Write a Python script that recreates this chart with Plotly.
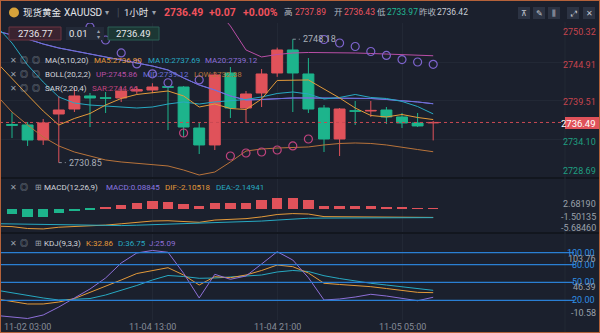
import plotly.graph_objects as go

# ---------------- data ----------------
times = ["11-02 02:00", "11-02 03:00", "11-02 04:00", "11-04 07:00", "11-04 08:00", "11-04 09:00",
         "11-04 10:00", "11-04 11:00", "11-04 12:00", "11-04 13:00", "11-04 14:00", "11-04 15:00",
         "11-04 16:00", "11-04 17:00", "11-04 18:00", "11-04 19:00", "11-04 20:00", "11-04 21:00",
         "11-04 22:00", "11-04 23:00", "11-05 00:00", "11-05 01:00", "11-05 02:00", "11-05 03:00",
         "11-05 04:00", "11-05 05:00", "11-05 06:00", "11-05 07:00"]
opens = [2736.20, 2736.14, 2734.03, 2737.68, 2738.38, 2740.21, 2739.95, 2739.93, 2740.90, 2741.05,
         2741.50, 2741.47, 2735.71, 2733.33, 2743.44, 2738.52, 2740.63, 2743.44, 2746.67, 2743.30,
         2738.52, 2734.17, 2738.12, 2738.10, 2738.24, 2737.26, 2736.42, 2736.43]
highs = [2737.90, 2736.56, 2736.98, 2740.21, 2741.33, 2740.63, 2740.77, 2741.47, 2741.60, 2742.00,
         2741.60, 2741.60, 2736.50, 2743.60, 2744.28, 2740.91, 2744.00, 2747.00, 2748.18, 2745.54,
         2738.94, 2738.52, 2739.51, 2739.51, 2738.66, 2737.82, 2737.82, 2736.70]
lows = [2734.30, 2733.19, 2733.33, 2730.85, 2737.96, 2735.85, 2737.82, 2739.36, 2740.50, 2740.60,
        2735.43, 2734.45, 2732.06, 2732.62, 2737.12, 2736.42, 2738.66, 2742.90, 2737.96, 2737.82,
        2732.34, 2731.78, 2736.14, 2737.26, 2736.28, 2735.71, 2735.85, 2733.97]
closes = [2736.10, 2734.03, 2736.42, 2738.24, 2740.21, 2739.93, 2739.90, 2740.91, 2741.10, 2741.47,
          2741.45, 2735.85, 2733.33, 2743.16, 2738.52, 2740.49, 2743.30, 2746.67, 2743.44, 2738.38,
          2734.17, 2738.38, 2738.08, 2738.18, 2737.26, 2736.42, 2736.00, 2736.49]

# indicator lines start one bar before the first visible candle
line_idx = list(range(-1, 28))
ma5 = [2744.98, 2742.60, 2740.35, 2738.10, 2736.13, 2737.05, 2737.75, 2738.94, 2739.86, 2740.42,
       2740.63, 2740.91, 2740.21, 2738.66, 2739.08, 2738.45, 2738.31, 2739.79, 2742.39, 2742.46,
       2742.46, 2741.19, 2739.93, 2738.52, 2737.47, 2737.26, 2737.61, 2737.19, 2736.90]
ma10 = [2750.04, 2747.65, 2744.56, 2742.17, 2740.07, 2739.22, 2738.94, 2738.80, 2738.66, 2738.52,
        2738.66, 2739.08, 2739.37, 2739.08, 2739.37, 2739.51, 2739.72, 2740.07, 2740.56, 2740.77,
        2740.49, 2739.79, 2740.00, 2740.42, 2740.00, 2739.86, 2739.44, 2738.73, 2737.69]
ma20 = [2749.34, 2748.78, 2748.21, 2747.51, 2746.95, 2746.53, 2746.11, 2745.69, 2745.26, 2744.84,
        2744.42, 2743.86, 2742.74, 2741.75, 2741.05, 2740.21, 2739.65, 2739.72, 2739.86, 2739.93,
        2739.93, 2739.93, 2739.93, 2739.93, 2739.86, 2739.72, 2739.58, 2739.37, 2739.12]
boll_up = [2758.3, 2759.6, 2760.3, 2760.6, 2760.7, 2760.7, 2760.4, 2760.2, 2759.6, 2759.0,
           2758.3, 2757.5, 2755.7, 2754.4, 2752.6, 2750.04, 2746.67, 2745.69, 2746.04, 2746.25,
           2746.32, 2746.32, 2746.32, 2746.25, 2746.18, 2746.11, 2746.04, 2745.97, 2745.86]
boll_low = [2740.35, 2737.96, 2736.13, 2734.45, 2733.19, 2732.34, 2731.78, 2731.22, 2730.94, 2730.73,
            2730.59, 2730.38, 2729.81, 2729.11, 2729.53, 2730.94, 2732.48, 2732.76, 2732.90, 2732.97,
            2733.05, 2733.33, 2733.54, 2733.61, 2733.54, 2733.33, 2733.05, 2732.69, 2732.38]
sar_above = [None, None, None, None, None, 2749.90, 2748.07, 2746.25, 2744.71, 2743.32,
             2742.07, None, 2742.46, None, None, None, None, None, None, None,
             2748.14, 2747.65, 2747.16, 2746.46, 2745.90, 2745.33, 2744.98, 2744.66]
sar_below = [None, None, None, None, None, None, None, None, None, None,
             None, 2735.01, None, None, 2731.78, 2732.20, 2732.34, 2732.62, 2733.19, 2734.17,
             None, None, None, None, None, None, None, None]

macd_hist = [-1.30, -2.09, -2.09, -1.07, -0.53, -0.23, 0.33, 0.86, 1.26, 1.79, 1.63, 1.09, 0.56, 1.40,
             1.40, 1.49, 2.02, 2.68, 2.65, 2.02, 0.70, 0.56, 0.56, 0.56, 0.47, 0.23, 0.10, 0.08845]
dif = [-4.20, -4.32, -4.78, -4.88, -4.47, -4.28, -4.20, -3.95, -3.64, -3.35, -2.97, -2.90, -3.08, -3.28,
       -2.74, -2.58, -2.40, -1.97, -1.40, -1.18, -1.29, -1.91, -1.95, -1.93, -1.91, -1.92, -2.04, -2.10,
       -2.10518]
dea = [-3.62, -3.67, -3.74, -3.84, -3.93, -4.02, -4.09, -4.12, -4.07, -3.98, -3.86, -3.72, -3.63, -3.56,
       -3.44, -3.28, -3.14, -2.98, -2.74, -2.51, -2.30, -2.26, -2.23, -2.21, -2.19, -2.16, -2.16, -2.15,
       -2.14941]
kdj_k = [22.3, 18.0, 13.8, 13.8, 17.1, 23.0, 33.1, 43.2, 54.1, 65.0, 70.1, 74.8, 62.5, 45.7, 59.7,
         58.0, 62.5, 70.1, 79.3, 76.5, 65.9, 48.6, 46.6, 44.9, 42.9, 39.8, 36.5, 33.4, 32.86]
kdj_d = [37.0, 32.3, 28.1, 23.9, 20.5, 21.3, 23.0, 28.9, 36.5, 44.9, 54.1, 61.7, 60.0, 57.0, 57.5,
         59.2, 60.0, 62.5, 67.6, 70.1, 68.4, 61.3, 56.6, 52.4, 48.6, 45.7, 42.4, 39.0, 36.75]
kdj_j = [-5.5, -8.1, -10.58, -4.7, 8.7, 23.9, 39.0, 57.5, 82.7, 99.5, 103.76, 100.7, 65.4, 23.9, 63.7,
         55.3, 60.8, 81.0, 101.7, 87.7, 58.0, 20.5, 22.2, 25.5, 30.1, 27.2, 23.0, 19.3, 25.09]

price_ticks = [2750.32, 2744.91, 2739.51, 2734.10, 2728.69]
macd_ticks = ["2.68190", "-1.50135", "-5.68460"]
kdj_levels = [100, 80, 50, 20]
kdj_extremes = ["103.76", "46.39", "-10.58"]
time_ticks = ["11-02 03:00", "11-04 13:00", "11-04 21:00", "11-05 05:00"]

quote_last, quote_chg, quote_pct = 2736.49, "+0.07", "+0.00%"
quote_high, quote_open, quote_low, quote_prev = 2737.89, 2736.43, 2733.97, 2736.42
ask_price, lot, bid_price = 2736.77, "0.01", 2736.49
macd_value = 0.08845
sar_value = 2744.66

# ---------------- styling ----------------
W, H = 600, 333
BG = "#1b202d"
GRID = "#222835"
RED = "#e0525a"
GREEN = "#1db48c"
ORANGE = "#e39a3a"
TEAL = "#27a9c2"
PURPLE = "#8d6fd8"
MIDC = "#6b70dc"
MAGENTA = "#b94ea6"
BROWN = "#b8733a"
SARPINK = "#c0437e"
SARPURP = "#7d63cc"
GREY = "#9aa0ab"
FONT = "Roboto, 'Noto Sans CJK SC', sans-serif"
LEG = 8


def py(p):
    return 1 - p / H


def pxx(p):
    return p / W


PLOT_R = 565
XR = [-0.769, 35.449]
idx = list(range(len(times)))

fig = go.Figure()

fig.add_trace(go.Candlestick(
    x=idx, open=opens, high=highs, low=lows, close=closes,
    increasing=dict(line=dict(color=RED, width=1), fillcolor=RED),
    decreasing=dict(line=dict(color=GREEN, width=1), fillcolor=GREEN),
    whiskerwidth=0, hoverinfo="skip", xaxis="x", yaxis="y", showlegend=False))

for vals, col in [(boll_low, BROWN), (boll_up, MAGENTA), (ma20, PURPLE), (ma20, MIDC),
                  (ma10, TEAL), (ma5, ORANGE)]:
    fig.add_trace(go.Scatter(x=line_idx, y=vals, mode="lines", line=dict(color=col, width=1),
                             xaxis="x", yaxis="y", hoverinfo="skip", showlegend=False))

fig.add_trace(go.Scatter(x=idx, y=sar_above, mode="markers",
                         marker=dict(symbol="circle-open", size=8, color=SARPURP, line=dict(width=1.2)),
                         xaxis="x", yaxis="y", hoverinfo="skip", showlegend=False))
fig.add_trace(go.Scatter(x=idx, y=sar_below, mode="markers",
                         marker=dict(symbol="circle-open", size=8, color=SARPINK, line=dict(width=1.2)),
                         xaxis="x", yaxis="y", hoverinfo="skip", showlegend=False))

# MACD
fig.add_trace(go.Bar(x=idx, y=macd_hist, marker=dict(color=[RED if v >= 0 else GREEN for v in macd_hist],
                                                     line=dict(width=0)),
                     width=0.66, xaxis="x2", yaxis="y2", hoverinfo="skip", showlegend=False))
fig.add_trace(go.Scatter(x=line_idx, y=dif, mode="lines", line=dict(color=ORANGE, width=1),
                         xaxis="x2", yaxis="y2", hoverinfo="skip", showlegend=False))
fig.add_trace(go.Scatter(x=line_idx, y=dea, mode="lines", line=dict(color=TEAL, width=1),
                         xaxis="x2", yaxis="y2", hoverinfo="skip", showlegend=False))

# KDJ
for vals, col in [(kdj_d, TEAL), (kdj_k, ORANGE), (kdj_j, PURPLE)]:
    fig.add_trace(go.Scatter(x=line_idx, y=vals, mode="lines", line=dict(color=col, width=1),
                             xaxis="x3", yaxis="y3", hoverinfo="skip", showlegend=False))

grid_idx = [times.index(t) for t in time_ticks[1:]]
xcommon = dict(domain=[0, PLOT_R / W], range=XR, showticklabels=False, tickvals=grid_idx,
               showgrid=True, gridcolor=GRID, gridwidth=1, zeroline=False, showline=False,
               fixedrange=True)

fig.update_layout(
    width=W, height=H, margin=dict(l=0, r=0, t=0, b=0),
    paper_bgcolor=BG, plot_bgcolor=BG, font=dict(family=FONT, color=GREY, size=9),
    showlegend=False, boxgap=0.3, boxgroupgap=0, bargap=0,
    xaxis=dict(anchor="y", rangeslider=dict(visible=False), **xcommon),
    xaxis2=dict(anchor="y2", matches="x", **xcommon),
    xaxis3=dict(anchor="y3", matches="x", **xcommon),
    yaxis=dict(domain=[py(178), py(23)], range=[2728.69, 2750.46], tickvals=price_ticks,
               showgrid=True, gridcolor=GRID, showticklabels=False, zeroline=False, fixedrange=True),
    yaxis2=dict(domain=[py(233), py(178)], range=[-5.86, 7.40], showgrid=False,
                showticklabels=False, zeroline=False, fixedrange=True),
    yaxis3=dict(domain=[py(320), py(233)], range=[-13.1, 133.1], showgrid=False,
                showticklabels=False, zeroline=False, fixedrange=True),
)

shapes = []
anns = []


def T(x, y, text, color=GREY, size=9, anchor="left", **kw):
    anns.append(dict(x=pxx(x), y=py(y), xref="paper", yref="paper", text=text, showarrow=False,
                     xanchor=anchor, yanchor="middle", font=dict(color=color, size=size, family=FONT),
                     borderpad=0, **kw))


def R(x0, y0, x1, y1, fill, line=None):
    shapes.append(dict(type="rect", xref="paper", yref="paper", x0=pxx(x0), x1=pxx(x1),
                       y0=py(y1), y1=py(y0), fillcolor=fill,
                       line=dict(color=line or fill, width=1 if line else 0), layer="above"))


# separators
for yy in (178, 233):
    shapes.append(dict(type="line", xref="paper", yref="paper", x0=0, x1=1, y0=py(yy), y1=py(yy),
                       line=dict(color="#12161e", width=2)))
shapes.append(dict(type="line", xref="paper", yref="paper", x0=pxx(PLOT_R), x1=pxx(PLOT_R),
                   y0=py(333), y1=py(22), line=dict(color=GRID, width=1)))

# current price dotted line
shapes.append(dict(type="line", xref="paper", yref="y", x0=0, x1=PLOT_R / W, y0=quote_last, y1=quote_last,
                   line=dict(color="#c94a53", width=1, dash="dot")))

# KDJ level lines
for lv in kdj_levels:
    shapes.append(dict(type="line", xref="paper", yref="y3", x0=0, x1=pxx(574), y0=lv, y1=lv,
                       line=dict(color="#2a7fd4", width=1.3)))

# high / low markers
hi_i = highs.index(max(highs))
lo_i = lows.index(min(lows))
for i, v in [(hi_i, highs[hi_i]), (lo_i, lows[lo_i])]:
    shapes.append(dict(type="line", xref="x", yref="y", x0=i, x1=i + 0.45, y0=v, y1=v,
                       line=dict(color="#8a909b", width=1, dash="dot")))
    anns.append(dict(x=i + 0.45, y=v, xref="x", yref="y", text=f"{v:.2f}", showarrow=False,
                     xanchor="left", yanchor="middle", font=dict(color="#a9aeb8", size=9, family=FONT),
                     xshift=1))

# right price axis labels
price_lbl_y = [31.5, 64.5, 102, 141.5, 171]
for v, yy in zip(price_ticks, price_lbl_y):
    T(597, yy, f"{v:.2f}", "#c7444e" if v > quote_last else "#1f9f80", 9, "right")
R(565, 117, 600, 129, RED)
T(597, 123, f"{quote_last:.2f}", "#ffffff", 9.5, "right")

# MACD axis labels
for t, yy in zip(macd_ticks, [204, 217, 228]):
    T(597, yy, t, GREY, 9, "right")
# KDJ axis labels
for lv in kdj_levels:
    anns.append(dict(x=pxx(597), y=lv, xref="paper", yref="y3", text=f"{lv:.2f}", showarrow=False,
                     xanchor="right", yanchor="middle", font=dict(color="#2f8fe4", size=9, family=FONT)))
for t, yy in zip(kdj_extremes, [259, 287, 313]):
    T(597, yy, t, GREY, 9, "right")

# time labels
for t in time_ticks:
    anns.append(dict(x=times.index(t), y=py(327), xref="x3", yref="paper", text=t, showarrow=False,
                     xanchor="center", yanchor="middle", font=dict(color="#858b97", size=9, family=FONT)))

# header
shapes.append(dict(type="circle", xref="paper", yref="paper", x0=pxx(9), x1=pxx(19), y0=py(17.5),
                   y1=py(7.5), fillcolor="#d6a23a", line=dict(width=0)))
T(22, 12.5, "现货黄金", "#e8eaee", 9.5)
T(63, 12.5, "XAUUSD", "#e3e5ea", 10)
T(104, 12.5, "▾", GREY, 8)
T(116, 12.5, "|", "#4a5060", 10)
T(123, 12.5, "1小时", "#e3e5ea", 9.5)
T(151, 12.5, "▾", GREY, 8)
T(163, 12.5, f"<b>{quote_last:.2f}</b>", "#f0525c", 10.5)
T(208, 12.5, f"<b>{quote_chg}</b>", "#f0525c", 10.5)
T(242, 12.5, f"<b>{quote_pct}</b>", "#f0525c", 10.5)
HN = 8.5
T(283, 12.5, "高", "#b4b9c2", 8.5)
T(294, 12.5, f"{quote_high:.2f}", "#ee5560", HN)
T(333, 12.5, "开", "#b4b9c2", 8.5)
T(343, 12.5, f"{quote_open:.2f}", "#ee5560", HN)
T(376, 12.5, "低", "#b4b9c2", 8.5)
T(386, 12.5, f"{quote_low:.2f}", "#22b894", HN)
T(418, 12.5, "昨收", "#b4b9c2", 8.5)
T(436, 12.5, f"{quote_prev:.2f}", "#c8ccd4", HN)

for (x0, g) in [(518, "⊼"), (533, "✎"), (548, "⫼"), (567, "⤢"), (583, "✕")]:
    R(x0, 7, x0 + 12, 19, "#2c3343")
    T(x0 + 6, 13, g, "#c3c7cf", 8, "center")

# order boxes
R(9, 27, 61, 40, "#3a2330", "#6c3441")
T(35, 33.5, f"{ask_price:.2f}", "#e6e7eb", 9.5, "center")
R(66, 27, 104, 40, "#232a38")
T(78, 33.5, lot, "#e6e7eb", 9.5, "center")
T(98, 30.5, "▴", GREY, 6, "center")
T(98, 36.5, "▾", GREY, 6, "center")
R(108, 27, 159, 40, "#1c3734", "#2b5f55")
T(133.5, 33.5, f"{bid_price:.2f}", "#e6e7eb", 9.5, "center")

# legends main panel
rows = [
    (61, "MA(5,10,20)", [(93, f"MA5:{ma5[-1]:.2f}", ORANGE), (147, f"MA10:{ma10[-1]:.2f}", TEAL),
                         (204, f"MA20:{ma20[-1]:.2f}", PURPLE)]),
    (74.5, "BOLL(20,2,2)", [(95, f"UP:{boll_up[-1]:.2f}", MAGENTA), (142, f"MID:{ma20[-1]:.2f}", MIDC),
                            (193, f"LOW:{boll_low[-1]:.2f}", BROWN)]),
    (88, "SAR(2,20,4)", [(91, f"SAR:{sar_value:.2f}", SARPINK)]),
]
for yy, name, items in rows:
    T(13, yy, "✕", GREY, LEG, "center")
    T(24, yy, "◎", GREY, LEG, "center")
    T(36, yy, "◎", GREY, LEG, "center")
    T(44, yy, name, "#d3d6dc", LEG)
    for x, s, c in items:
        T(x, yy, s, c, LEG)

# MACD legend
T(13, 187, "✕", GREY, LEG, "center")
T(24, 187, "◎", GREY, LEG, "center")
T(38, 187, "⊞", GREY, LEG, "center")
T(43, 187, "MACD(12,26,9)", "#d3d6dc", LEG)
T(105, 187, f"MACD:{macd_value:.5f}", "#8a76e0", LEG)
T(164, 187, f"DIF:{dif[-1]:.5f}", ORANGE, LEG)
T(215, 187, f"DEA:{dea[-1]:.5f}", TEAL, LEG)

# KDJ legend
T(13, 243, "✕", GREY, LEG, "center")
T(24, 243, "◎", GREY, LEG, "center")
T(38, 243, "⊞", GREY, LEG, "center")
T(43, 243, "KDJ(9,3,3)", "#d3d6dc", LEG)
T(85, 243, f"K:{kdj_k[-1]:.2f}", ORANGE, LEG)
T(117, 243, f"D:{kdj_d[-1]:.2f}", TEAL, LEG)
T(148, 243, f"J:{kdj_j[-1]:.2f}", PURPLE, LEG)

# frame
shapes.append(dict(type="rect", xref="paper", yref="paper", x0=0, x1=1, y0=0, y1=1,
                   line=dict(color="#b5623a", width=2), fillcolor="rgba(0,0,0,0)", layer="above"))

fig.update_layout(shapes=shapes, annotations=anns)
fig.write_html("out.html")
